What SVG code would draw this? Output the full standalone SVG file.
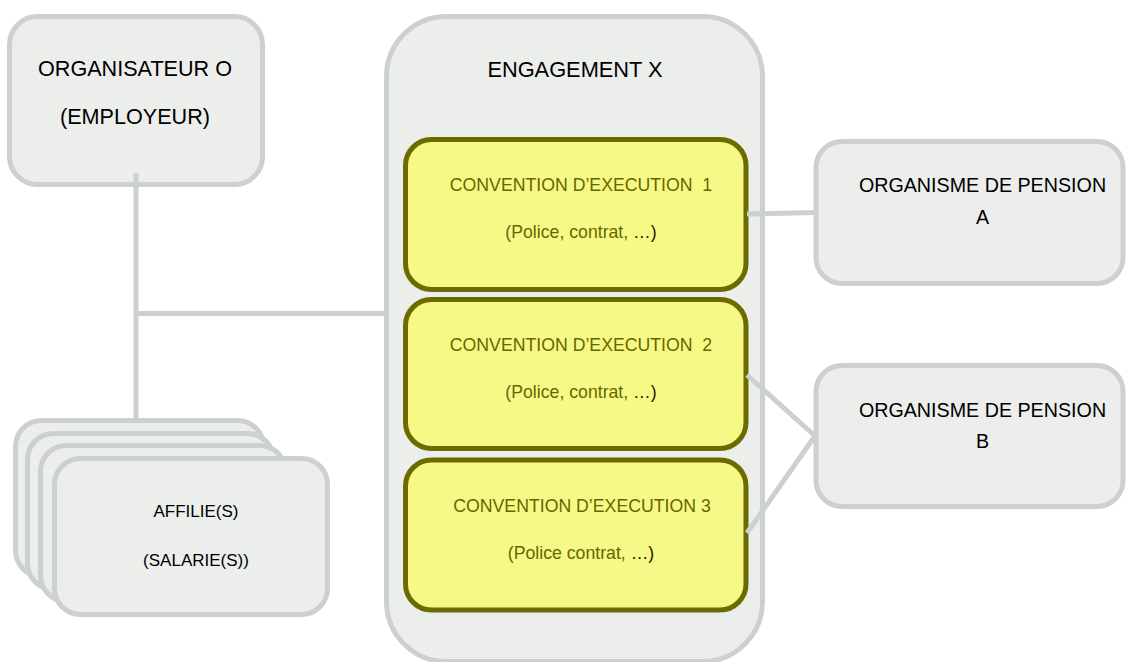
<svg xmlns="http://www.w3.org/2000/svg" width="1128" height="662" viewBox="0 0 1128 662">
<style>
.g{fill:#ECEEEC;stroke:#CDD1CD;stroke-width:5}
.y{fill:#F7F986;stroke:#6B6B00;stroke-width:5}
.t{font-family:"Liberation Sans",Arial,sans-serif;fill:#000;text-anchor:middle}
.o{font-family:"Liberation Sans",Arial,sans-serif;fill:#666600;text-anchor:middle;font-size:17.7px}
.d{fill:#1a1a00}
.c{stroke:#CDD1CD;stroke-width:5;fill:none}
</style>
<rect width="1128" height="662" fill="#fff"/>
<g id="organisateur">
<rect class="g" x="9.5" y="16.5" width="253" height="168" rx="28"/>
<text class="t" x="135" y="76" font-size="21.6">ORGANISATEUR O</text>
<text class="t" x="135" y="124" font-size="21.6">(EMPLOYEUR)</text>
</g>
<g id="engagement">
<rect class="g" x="386.5" y="16.5" width="376" height="645" rx="60"/>
<text class="t" x="575" y="77" font-size="21.8">ENGAGEMENT X</text>
</g>
<g id="convention1">
<rect class="y" x="405.5" y="139.5" width="340.5" height="150" rx="26"/>
<text class="o" x="581" y="191" xml:space="preserve">CONVENTION D’EXECUTION  1</text>
<text class="o" x="581" y="238">(Police, contrat, <tspan class="d">…)</tspan></text>
</g>
<g id="convention2">
<rect class="y" x="405.5" y="299.5" width="340.5" height="149" rx="26"/>
<text class="o" x="581" y="351" xml:space="preserve">CONVENTION D’EXECUTION  2</text>
<text class="o" x="581" y="398">(Police, contrat, <tspan class="d">…)</tspan></text>
</g>
<g id="convention3">
<rect class="y" x="405.5" y="460" width="340.5" height="150" rx="26"/>
<text class="o" x="582" y="512">CONVENTION D’EXECUTION 3</text>
<text class="o" x="581" y="559">(Police contrat, <tspan class="d">…)</tspan></text>
</g>
<g id="organismeA">
<rect class="g" x="816" y="141.5" width="307" height="142" rx="26"/>
<text class="t" x="982.5" y="192" font-size="19.7">ORGANISME DE PENSION</text>
<text class="t" x="982.5" y="224" font-size="19.7">A</text>
</g>
<g id="organismeB">
<rect class="g" x="816" y="365.5" width="307" height="141" rx="26"/>
<text class="t" x="982.5" y="417" font-size="19.7">ORGANISME DE PENSION</text>
<text class="t" x="982.5" y="448" font-size="19.7">B</text>
</g>
<g id="affilies">
<rect class="g" x="15.5" y="420.5" width="248" height="156" rx="26"/>
<rect class="g" x="27.5" y="433.5" width="246" height="156" rx="26"/>
<rect class="g" x="40.5" y="445.5" width="245" height="156" rx="26"/>
<rect class="g" x="54.5" y="458.5" width="273" height="156" rx="26"/>
<text class="t" x="196" y="517" font-size="17">AFFILIE(S)</text>
<text class="t" x="196" y="566" font-size="17">(SALARIE(S))</text>
</g>
<g id="connectors">
<line class="c" x1="136" y1="173" x2="136" y2="419"/>
<line class="c" x1="136" y1="313.5" x2="386" y2="313.5"/>
<line class="c" x1="747" y1="214" x2="815" y2="212.5"/>
<line class="c" x1="747" y1="375" x2="815" y2="436"/>
<line class="c" x1="747" y1="533" x2="815" y2="436"/>
</g>
</svg>
